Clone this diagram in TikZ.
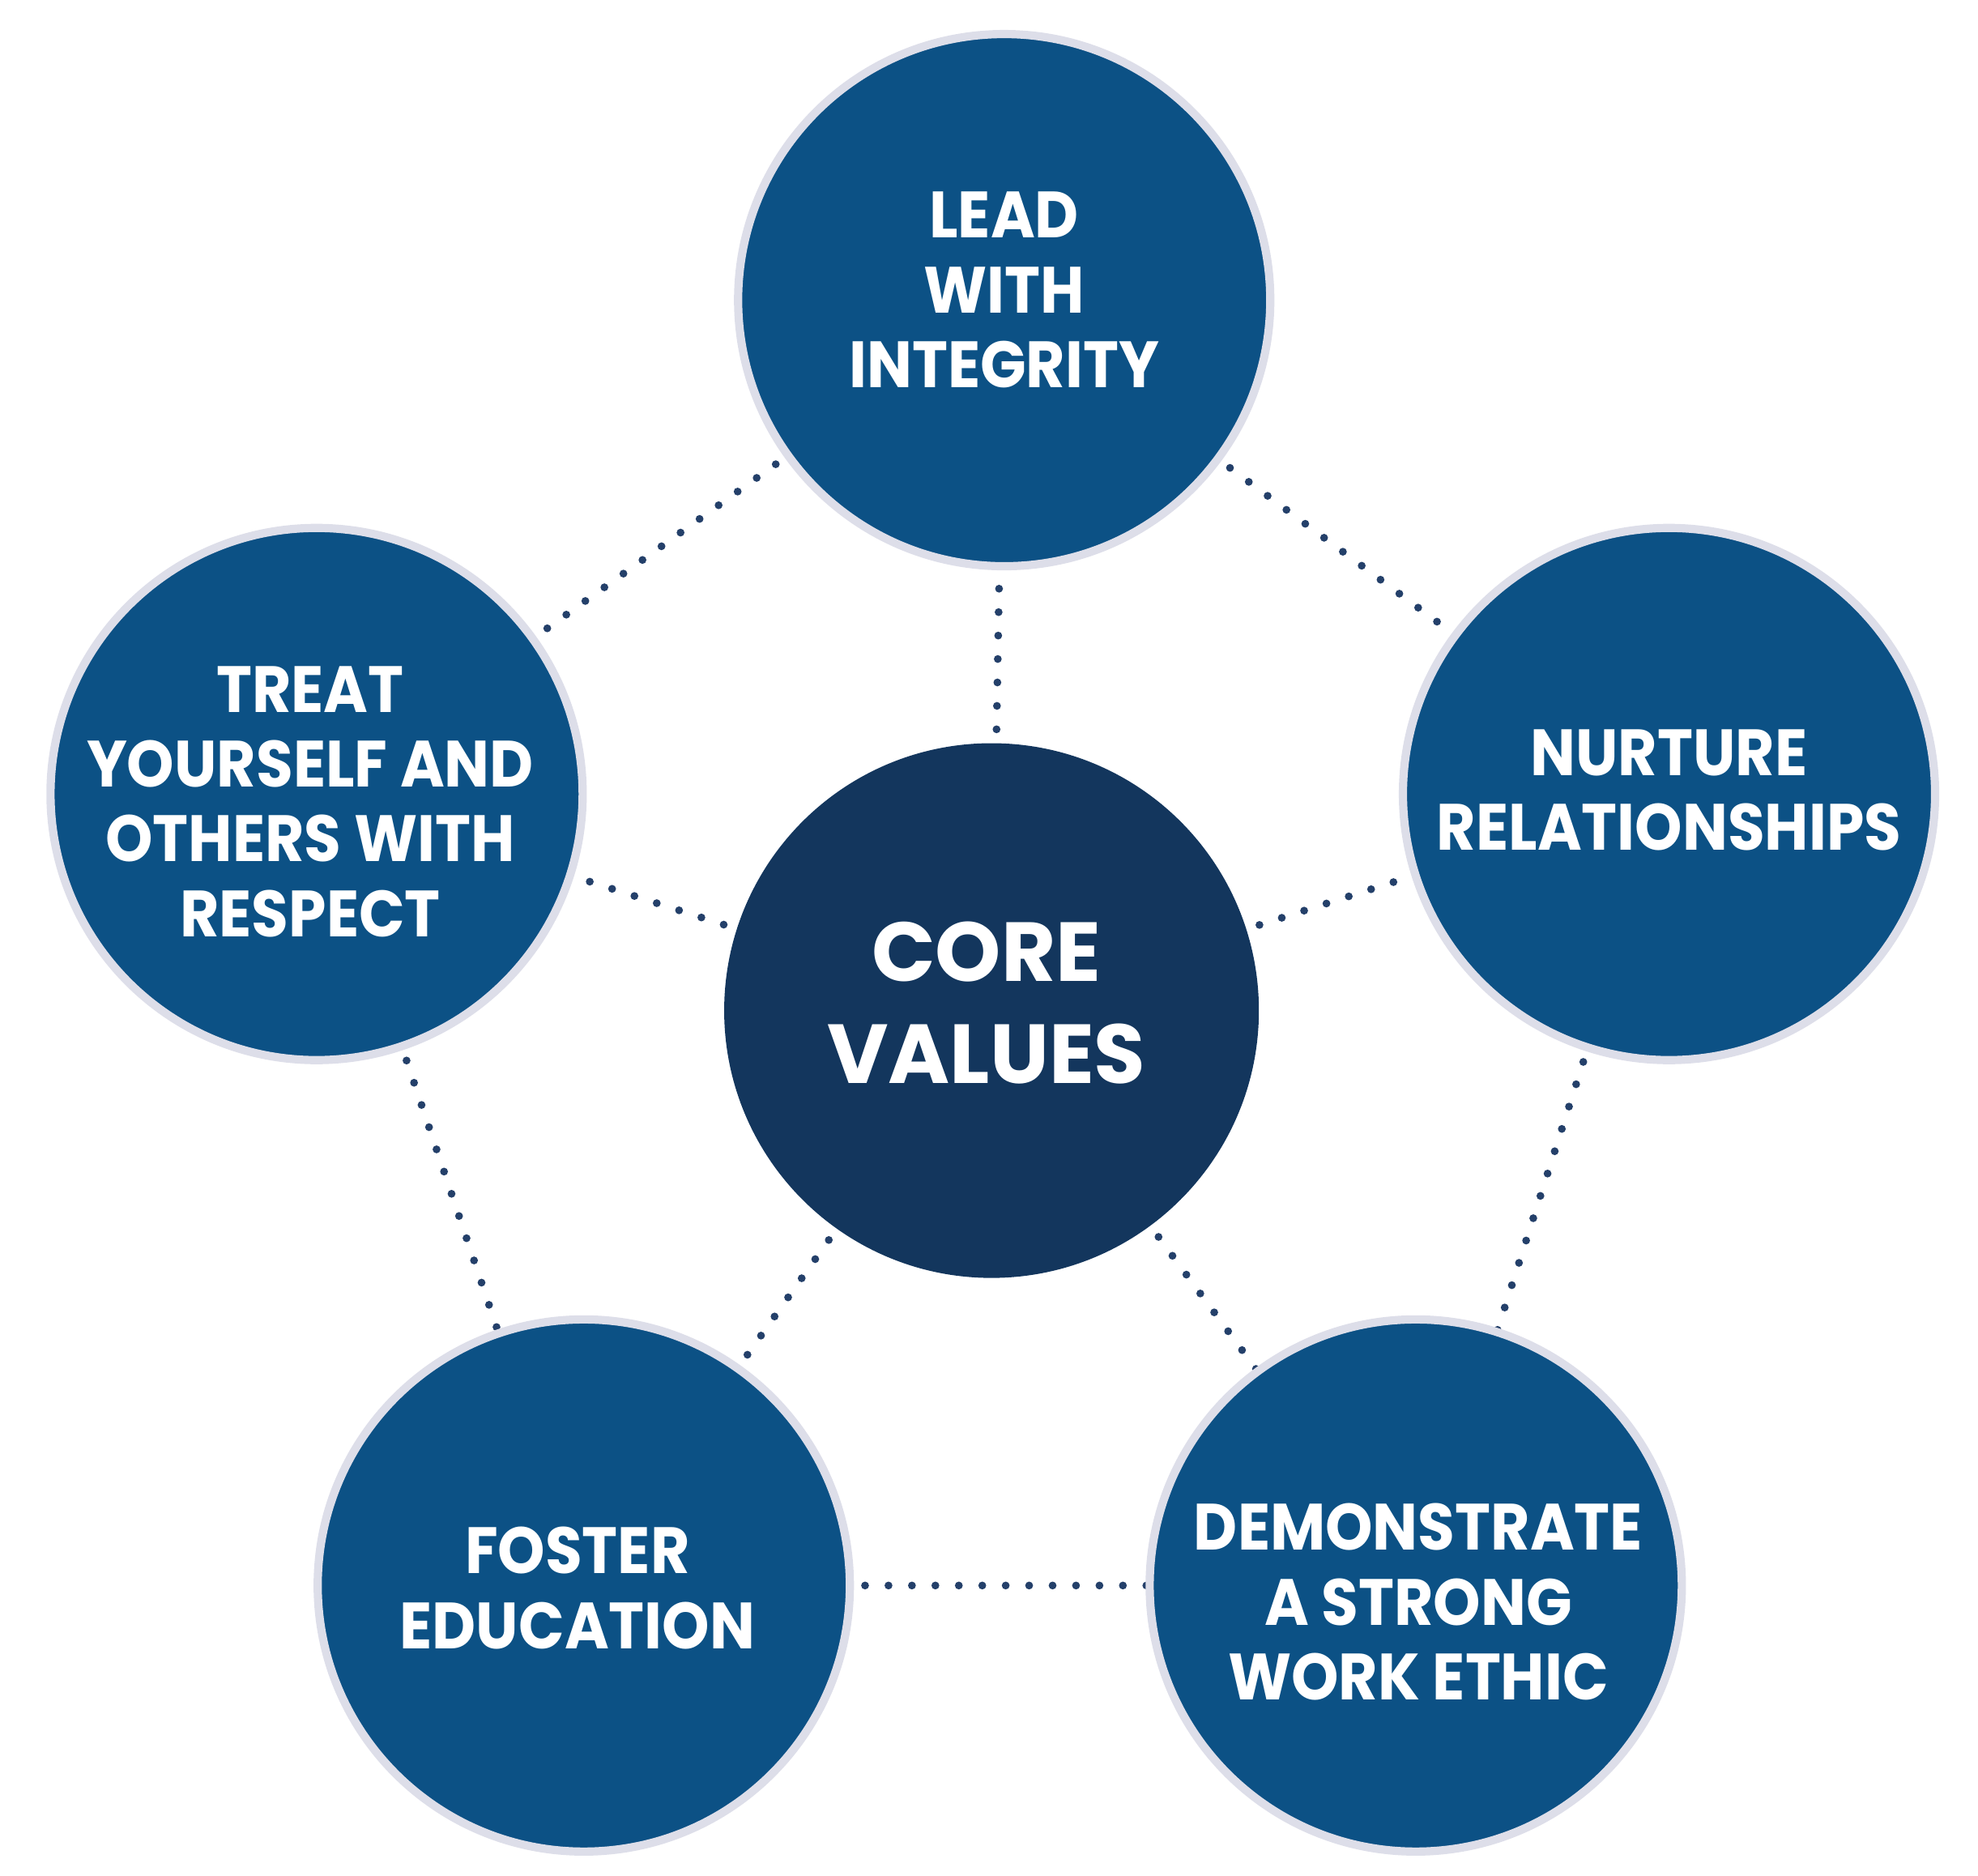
\documentclass[tikz,border=0pt]{standalone}
\usepackage{fontspec}
\setmainfont{Poppins}[BoldFeatures={FakeStretch=0.92}]
\newfontfamily\corefont{Poppins}
\definecolor{outerblue}{HTML}{0C5185}
\definecolor{coreblue}{HTML}{13365D}
\definecolor{ringgray}{HTML}{DDDEE9}
\definecolor{dotblue}{HTML}{24406A}
\begin{document}
\begin{tikzpicture}[x=0.01cm,y=-0.01cm,
  value/.style={circle, fill=outerblue, draw=ringgray, line width=0.065cm,
    minimum size=4.2cm, inner sep=0pt},
  core/.style={circle, fill=coreblue, minimum size=4.22cm, inner sep=0pt},
  vtext/.style={text=white, align=center, inner sep=0pt,
    font=\fontsize{14.7}{16.8}\selectfont\bfseries},
  ctext/.style={text=white, align=center, inner sep=0pt,
    font=\corefont\fontsize{18.8}{22.8}\selectfont\bfseries},
  dotline/.style={dotblue, line width=0.062cm, line cap=round,
    dash pattern=on 0pt off 0.185cm}]
\useasboundingbox (0,0) rectangle (1562,1481);
% centres
\coordinate (ct) at (793,237);
\coordinate (cl) at (250,627);
\coordinate (cr) at (1318,627);
\coordinate (cbl) at (461,1252);
\coordinate (cbr) at (1118,1252);
\coordinate (cc) at (783,798);
% dotted connectors
\draw[dotline] (ct) -- (cl);
\draw[dotline] (ct) -- (cr);
\draw[dotline] (cl) -- (cbl);
\draw[dotline] (cr) -- (cbr);
\draw[dotline] (cbl) -- (cbr);
\draw[dotline] (cc) -- (ct);
\draw[dotline] (cc) -- (cl);
\draw[dotline] (cc) -- (cr);
\draw[dotline] (cc) -- (cbl);
\draw[dotline] (cc) -- (cbr);
% circles
\node[value] (top) at (ct) {};
\node[value] (left) at (cl) {};
\node[value] (right) at (cr) {};
\node[value] (bl) at (cbl) {};
\node[value] (br) at (cbr) {};
\node[core] (core) at (cc) {};
% texts
\node[vtext] (ttop) at (793,229) {LEAD\\WITH\\INTEGRITY};
\node[vtext] (tleft) at (245,633) {TREAT\\YOURSELF AND\\OTHERS WITH\\RESPECT};
\node[vtext] (tright) at (1318,624) {NURTURE\\RELATIONSHIPS};
\node[vtext] (tbl) at (456,1254) {FOSTER\\EDUCATION};
\node[vtext] (tbr) at (1120,1265) {DEMONSTRATE\\A STRONG\\WORK ETHIC};
\node[ctext] (tcore) at (779,792) {CORE\\VALUES};
\end{tikzpicture}
\end{document}
